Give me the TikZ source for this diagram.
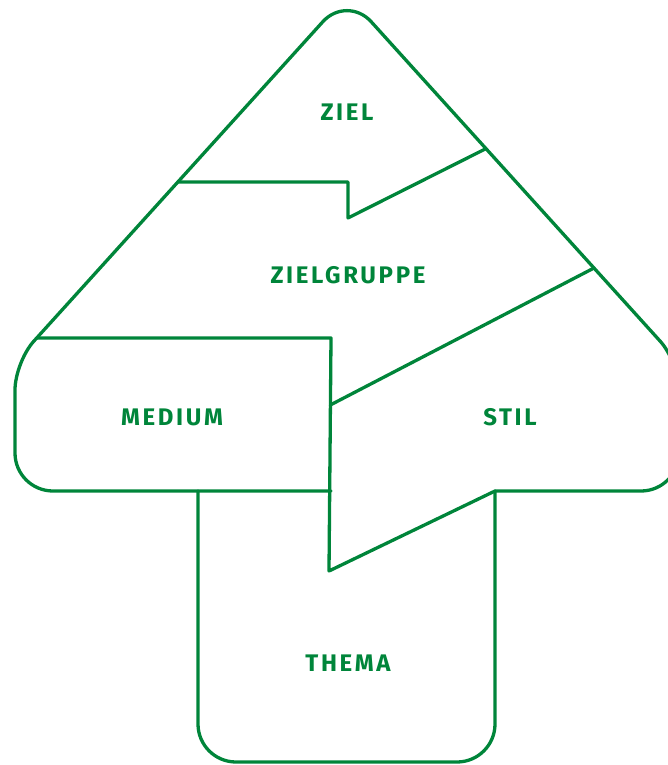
\documentclass[tikz,border=0pt]{standalone}
\usepackage{fontspec}
\setmainfont{Fira Sans}
\definecolor{fgreen}{RGB}{0,133,58}
\begin{document}
\begin{tikzpicture}[x=1pt,y=-1pt,
  outline/.style={draw=fgreen,line width=3.3pt,line join=round,line cap=round},
  lbl/.style={text=fgreen,font=\fontsize{24}{28}\selectfont\bfseries\addfontfeature{LetterSpace=11}}]
\useasboundingbox (0,0) rectangle (668,765);
\clip (0,0) rectangle (668,765);
% arrow head
\draw[outline,rounded corners=38pt] (331,491) -- (15,491)
  [rounded corners=28pt] -- (15,362)
  [rounded corners=36pt] -- (347,-5)
  [rounded corners=28pt] -- (679,362)
  [rounded corners=38pt] -- (679,491) -- (495,491);
% stem
\draw[outline,rounded corners=38pt] (198,491) -- (198,762) -- (495,762) -- (495,491);
% inner dividers
\draw[outline] (177.8,182) -- (348,182) -- (348,218) -- (486,148.6);
\draw[outline] (36.6,338) -- (331,338) -- (329,571) -- (495,491);
\draw[outline] (330.3,405) -- (594,268);
% labels
\node[lbl] (ziel) at (347,112.5) {ZIEL};
\node[lbl] (zielgruppe) at (348,275.5) {ZIELGRUPPE};
\node[lbl] (medium) at (172,417.5) {MEDIUM};
\node[lbl] (stil) at (510,417.5) {STIL};
\node[lbl] (thema) at (348,663.5) {THEMA};
\end{tikzpicture}
\end{document}
